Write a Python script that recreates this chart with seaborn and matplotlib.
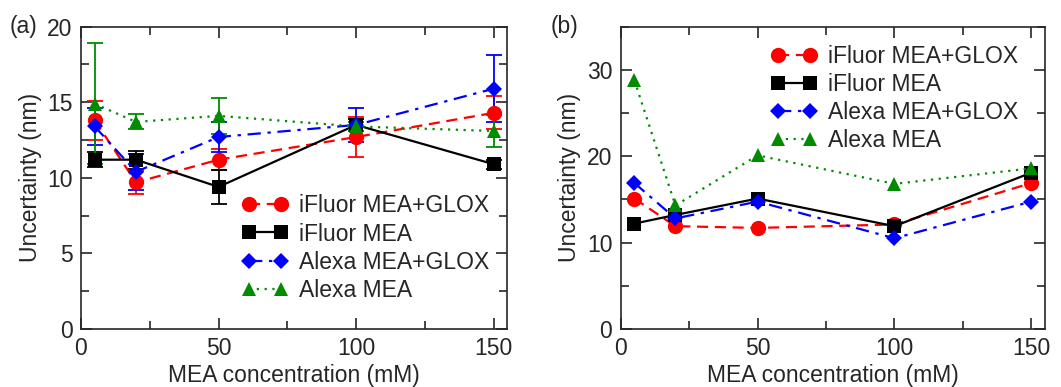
import numpy as np
import pandas as pd
import seaborn as sns
import matplotlib.pyplot as plt
from matplotlib.ticker import MultipleLocator

# data
conc = [5, 20, 50, 100, 150]
labels = ['iFluor MEA+GLOX', 'iFluor MEA', 'Alexa MEA+GLOX', 'Alexa MEA']

# panel (a): mean uncertainty and error
a_ifluor_glox = [13.8, 9.7, 11.2, 12.7, 14.3]
a_ifluor_glox_err = [1.3, 0.75, 0.7, 1.3, 1.1]
a_ifluor_mea = [11.2, 11.2, 9.4, 13.5, 10.9]
a_ifluor_mea_err = [0.5, 0.6, 1.1, 0.4, 0.3]
a_alexa_glox = [13.4, 10.4, 12.7, 13.5, 15.9]
a_alexa_glox_err = [1.2, 1.2, 1.0, 1.15, 2.2]
a_alexa_mea = [14.9, 13.7, 14.1, 13.4, 13.1]
a_alexa_mea_err = [4.0, 0.5, 1.2, 0.3, 1.05]

# panel (b)
b_ifluor_glox = [15.1, 11.9, 11.7, 12.1, 16.9]
b_ifluor_mea = [12.2, 13.2, 15.1, 11.9, 18.1]
b_alexa_glox = [16.9, 12.8, 14.75, 10.5, 14.75]
b_alexa_mea = [28.8, 14.3, 20.1, 16.8, 18.6]

colors = ['#ff0000', '#000000', '#0000ff', '#008b00']
markers = ['o', 's', 'D', '^']
styles = [(0, (5, 3)), '-', (0, (6, 3, 1.5, 3)), (0, (1, 2.5))]
msizes = [11, 10, 8.5, 10]

sns.set_style('ticks')
plt.rcParams['font.family'] = ['Liberation Sans', 'DejaVu Sans']
fs = 16.5

fig = plt.figure(figsize=(10.61, 3.87), dpi=100)
ax1 = fig.add_axes([0.0763, 0.150, 0.402, 0.781])
ax2 = fig.add_axes([0.585, 0.150, 0.400, 0.781])

a_vals = [a_ifluor_glox, a_ifluor_mea, a_alexa_glox, a_alexa_mea]
a_errs = [a_ifluor_glox_err, a_ifluor_mea_err, a_alexa_glox_err, a_alexa_mea_err]
b_vals = [b_ifluor_glox, b_ifluor_mea, b_alexa_glox, b_alexa_mea]

for i in range(4):
    ax1.errorbar(conc, a_vals[i], yerr=a_errs[i], fmt='none', ecolor=colors[i],
                 elinewidth=1.3, capsize=6, capthick=1.3, zorder=2)
    df = pd.DataFrame({'x': conc, 'y': a_vals[i]})
    sns.lineplot(data=df, x='x', y='y', ax=ax1, color=colors[i], marker=markers[i],
                 markersize=msizes[i], markeredgewidth=0, linewidth=1.6,
                 linestyle=styles[i], label=labels[i], zorder=3)
    df = pd.DataFrame({'x': conc, 'y': b_vals[i]})
    sns.lineplot(data=df, x='x', y='y', ax=ax2, color=colors[i], marker=markers[i],
                 markersize=msizes[i], markeredgewidth=0, linewidth=1.6,
                 linestyle=styles[i], label=labels[i], zorder=3)

for ax, ymax, ystep in [(ax1, 20, 5), (ax2, 35, 10)]:
    ax.set_xlim(0, 155)
    ax.set_ylim(0, ymax)
    ax.xaxis.set_major_locator(MultipleLocator(50))
    ax.xaxis.set_minor_locator(MultipleLocator(25))
    ax.yaxis.set_major_locator(MultipleLocator(ystep))
    ax.yaxis.set_minor_locator(MultipleLocator(ystep / 2))
    ax.tick_params(which='both', direction='in', top=True, right=True, width=1.2)
    ax.tick_params(which='major', length=8, labelsize=fs, pad=6)
    ax.tick_params(which='minor', length=6)
    for s in ax.spines.values():
        s.set_linewidth(1.2)
    ax.set_xlabel('MEA concentration (mM)', fontsize=fs, labelpad=3)
    ax.set_ylabel('Uncertainty (nm)', fontsize=fs, labelpad=4)

leg_kw = dict(frameon=False, numpoints=2, handlelength=2.0, handletextpad=0.5,
              labelspacing=0.22, fontsize=fs, borderaxespad=0.2)
ax1.legend(loc='lower right', bbox_to_anchor=(0.99, 0.045), **leg_kw)
ax2.legend(loc='upper right', bbox_to_anchor=(0.97, 0.985), **leg_kw)

fig.text(0.009, 0.931, '(a)', fontsize=fs, va='center')
fig.text(0.519, 0.931, '(b)', fontsize=fs, va='center')

fig.savefig('out.png', dpi=100)
